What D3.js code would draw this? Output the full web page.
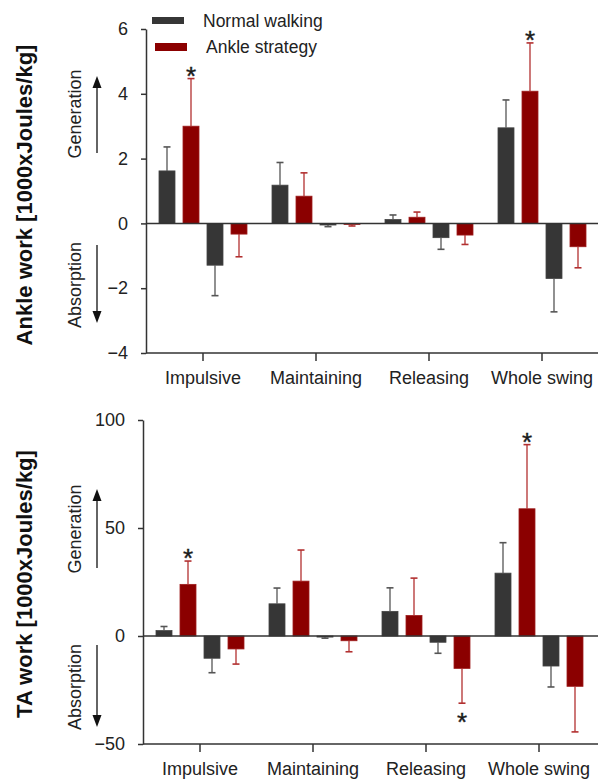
<!DOCTYPE html>
<html>
<head>
<meta charset="utf-8">
<script src="https://cdn.jsdelivr.net/npm/d3@7"></script>
<style>
  body { margin: 0; background: #fff; }
  svg { display: block; font-family: "Liberation Sans", Arial, sans-serif; }
</style>
</head>
<body>
<div id="chart"></div>
<script>
// phases of the swing
const phases = ["Impulsive", "Maintaining", "Releasing", "Whole swing"];
const seriesKeys = ["normalGen", "ankleGen", "normalAbs", "ankleAbs"];

// Ankle work (top panel), mean and SD
const ankleNormalGen = [1.62, 1.18, 0.12, 2.95];
const ankleNormalGenSd = [0.74, 0.70, 0.14, 0.86];
const ankleStratGen = [3.00, 0.84, 0.19, 4.08];
const ankleStratGenSd = [1.47, 0.72, 0.16, 1.49];
const ankleNormalAbs = [-1.29, -0.05, -0.44, -1.70];
const ankleNormalAbsSd = [0.94, 0.05, 0.36, 1.03];
const ankleStratAbs = [-0.33, -0.03, -0.36, -0.72];
const ankleStratAbsSd = [0.70, 0.05, 0.29, 0.65];
const ankleTicks = [-4, -2, 0, 2, 4, 6];
// significant differences: [phase, series]
const ankleSig = [["Impulsive", "ankleGen"], ["Whole swing", "ankleGen"]];

// TA work (bottom panel)
const taNormalGen = [2.5, 14.9, 11.4, 29.1];
const taNormalGenSd = [1.9, 7.3, 10.9, 14.1];
const taStratGen = [23.9, 25.4, 9.5, 58.9];
const taStratGenSd = [10.8, 14.4, 17.3, 29.7];
const taNormalAbs = [-10.3, -0.5, -2.9, -13.9];
const taNormalAbsSd = [6.7, 0.5, 5.1, 9.7];
const taStratAbs = [-6.0, -2.2, -15.0, -23.3];
const taStratAbsSd = [7.0, 5.1, 16.1, 21.1];
const taTicks = [-50, 0, 50, 100];
const taSig = [["Impulsive", "ankleGen"], ["Whole swing", "ankleGen"], ["Releasing", "ankleAbs"]];

const legendLabels = ["Normal walking", "Ankle strategy"];

const darkColor = "#363636";
const redColor = "#8b0000";
const colorOf = k => (k.startsWith("normal") ? darkColor : redColor);
const errColorOf = k => (k.startsWith("normal") ? "#555" : "#b23030");

function buildRows(gN, gNs, gA, gAs, aN, aNs, aA, aAs) {
    const rows = [];
    phases.forEach((p, i) => {
        rows.push({ phase: p, key: "normalGen", value: gN[i], sd: gNs[i] });
        rows.push({ phase: p, key: "ankleGen", value: gA[i], sd: gAs[i] });
        rows.push({ phase: p, key: "normalAbs", value: aN[i], sd: aNs[i] });
        rows.push({ phase: p, key: "ankleAbs", value: aA[i], sd: aAs[i] });
    });
    return rows;
}

const svg = d3.select("#chart").append("svg")
    .attr("width", 598)
    .attr("height", 782);

function drawPanel(cfg) {
    const y = d3.scaleLinear().domain(cfg.domain).range([cfg.bottom, cfg.top]);
    const x = d3.scaleBand().domain(phases).range([cfg.left + 0.5, cfg.left + 452.5]);
    const inner = d3.scaleBand().domain(seriesKeys).range([-48, 48])
        .paddingInner(1 / 3).paddingOuter(1 / 6);

    const g = svg.append("g");

    // bars
    g.selectAll("rect.bar")
        .data(cfg.rows)
        .join("rect")
        .attr("class", "bar")
        .attr("x", d => x(d.phase) + x.bandwidth() / 2 + inner(d.key))
        .attr("width", inner.bandwidth())
        .attr("y", d => Math.min(y(d.value), y(0)))
        .attr("height", d => Math.abs(y(d.value) - y(0)))
        .attr("fill", d => colorOf(d.key))
        .attr("stroke", d => d.key.startsWith("normal") ? "#444" : "#9e1c1c")
        .attr("stroke-width", 0.8);

    // error bars (one side, away from zero)
    const err = g.selectAll("g.err").data(cfg.rows).join("g").attr("class", "err");
    const cx = d => x(d.phase) + x.bandwidth() / 2 + inner(d.key) + inner.bandwidth() / 2;
    const tip = d => y(d.value + (d.value >= 0 ? d.sd : -d.sd));
    err.append("line")
        .attr("x1", cx).attr("x2", cx)
        .attr("y1", d => y(d.value)).attr("y2", tip)
        .attr("stroke", d => errColorOf(d.key)).attr("stroke-width", 1.3);
    err.append("line")
        .attr("x1", d => cx(d) - 3.5).attr("x2", d => cx(d) + 3.5)
        .attr("y1", tip).attr("y2", tip)
        .attr("stroke", d => errColorOf(d.key)).attr("stroke-width", 1.6);

    // asterisks
    const sigRows = cfg.rows.filter(d => cfg.sig.some(s => s[0] === d.phase && s[1] === d.key));
    g.selectAll("text.sig")
        .data(sigRows)
        .join("text")
        .attr("class", "sig")
        .attr("x", cx)
        .attr("y", d => d.value >= 0 ? tip(d) + 6 : tip(d) + 28)
        .attr("text-anchor", "middle")
        .style("font-size", "26px")
        .style("fill", "#1a1a1a")
        .style("stroke", "#1a1a1a")
        .style("stroke-width", 0.4)
        .text("*");

    // y axis
    const yAxis = d3.axisLeft(y).tickValues(cfg.ticks).tickSize(5).tickPadding(13).tickSizeOuter(0);
    const ya = g.append("g")
        .attr("transform", `translate(${cfg.left},0)`)
        .call(yAxis);
    ya.selectAll("text").style("font-size", "18px").style("fill", "#222");
    ya.selectAll("line, path").attr("stroke", "#333").attr("stroke-width", 1.5);

    // x axis at the bottom
    const xAxis = d3.axisBottom(x).tickSize(8).tickPadding(10).tickSizeOuter(0);
    const xa = g.append("g")
        .attr("transform", `translate(0,${cfg.bottom})`)
        .call(xAxis);
    xa.select("path.domain").attr("d", `M${cfg.left},0H598`);
    xa.selectAll("text").style("font-size", "18px").style("fill", "#222");
    xa.selectAll("line, path").attr("stroke", "#333").attr("stroke-width", 1.5);

    // zero line
    g.append("line")
        .attr("x1", cfg.left).attr("x2", 598)
        .attr("y1", y(0)).attr("y2", y(0))
        .attr("stroke", "#333").attr("stroke-width", 1.5);

    // axis title
    g.append("text")
        .attr("transform", `translate(32,${cfg.titleY}) rotate(-90)`)
        .attr("text-anchor", "middle")
        .style("font-size", "22px")
        .style("font-weight", "bold")
        .style("fill", "#111")
        .text(cfg.title);

    // generation / absorption arrows
    const arrows = [
        { label: "Generation", y0: cfg.genArrow[0], y1: cfg.genArrow[1], ty: cfg.genText },
        { label: "Absorption", y0: cfg.absArrow[0], y1: cfg.absArrow[1], ty: cfg.absText }
    ];
    arrows.forEach(a => {
        const dir = a.y1 < a.y0 ? -1 : 1;
        g.append("line")
            .attr("x1", 97).attr("x2", 97)
            .attr("y1", a.y0).attr("y2", a.y1 - dir * 10)
            .attr("stroke", "#111").attr("stroke-width", 1.3);
        g.append("path")
            .attr("d", `M97,${a.y1}L92.5,${a.y1 - dir * 12}L101.5,${a.y1 - dir * 12}Z`)
            .attr("fill", "#111");
        g.append("text")
            .attr("transform", `translate(81,${a.ty}) rotate(-90)`)
            .attr("text-anchor", "middle")
            .style("font-size", "18px")
            .style("fill", "#222")
            .text(a.label);
    });
}

drawPanel({
    rows: buildRows(ankleNormalGen, ankleNormalGenSd, ankleStratGen, ankleStratGenSd,
        ankleNormalAbs, ankleNormalAbsSd, ankleStratAbs, ankleStratAbsSd),
    domain: [-4, 6], ticks: ankleTicks, sig: ankleSig,
    left: 146, top: 29, bottom: 353,
    title: "Ankle work [1000xJoules/kg]", titleY: 195,
    genArrow: [153, 76], genText: 114,
    absArrow: [245, 323], absText: 285
});

drawPanel({
    rows: buildRows(taNormalGen, taNormalGenSd, taStratGen, taStratGenSd,
        taNormalAbs, taNormalAbsSd, taStratAbs, taStratAbsSd),
    domain: [-50, 100], ticks: taTicks, sig: taSig,
    left: 143, top: 420, bottom: 744,
    title: "TA work [1000xJoules/kg]", titleY: 584,
    genArrow: [568, 489], genText: 529,
    absArrow: [645, 727], absText: 687
});

// legend
const legend = svg.append("g");
legendLabels.forEach((lab, i) => {
    legend.append("rect")
        .attr("x", 152 + i * 3).attr("y", i === 0 ? 17 : 43)
        .attr("width", 32).attr("height", i === 0 ? 7 : 8)
        .attr("fill", i === 0 ? darkColor : redColor);
    legend.append("text")
        .attr("x", 203 + i * 3).attr("y", i === 0 ? 27 : 53)
        .style("font-size", "17.5px")
        .style("fill", "#222")
        .text(lab);
});
</script>
</body>
</html>
